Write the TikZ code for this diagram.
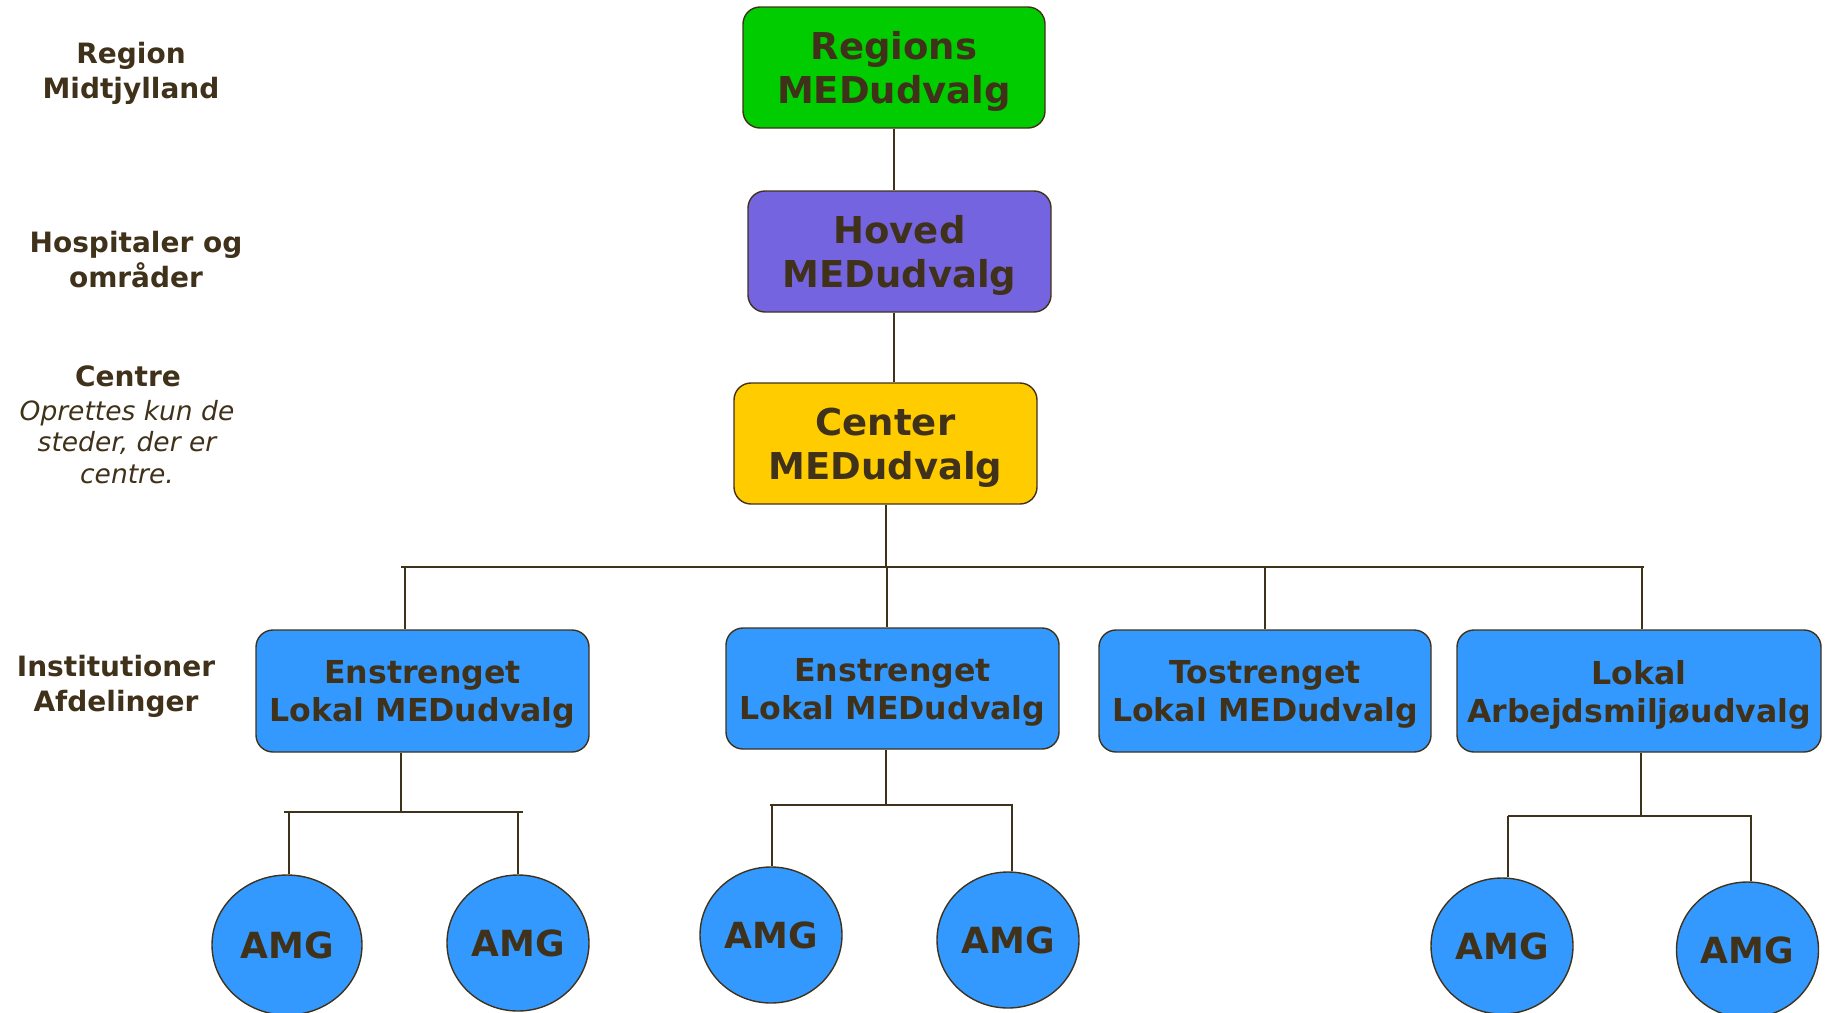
\documentclass[tikz,border=0pt]{standalone}
\usepackage{fontspec}
\setmainfont{DejaVu Sans}
\usetikzlibrary{shapes.geometric}
\definecolor{txt}{RGB}{64,50,26}
\definecolor{grn}{RGB}{0,204,0}
\definecolor{purp}{RGB}{117,100,224}
\definecolor{yel}{RGB}{255,204,0}
\definecolor{blu}{RGB}{51,153,255}
\begin{document}
\begin{tikzpicture}[x=1pt,y=-1pt,
  conn/.style={draw=txt,line width=1.6pt},
  bigbox/.style={rectangle,draw=txt,line width=1.4pt,rounded corners=17pt,minimum width=302pt,minimum height=121pt,inner sep=0pt,align=center,text=txt,font=\fontsize{37}{44}\selectfont\bfseries,text depth=0pt},
  unitbox/.style={bigbox,fill=blu,minimum width=333pt,minimum height=122pt,font=\fontsize{31.6}{38}\selectfont\bfseries},
  amg/.style={ellipse,draw=txt,line width=1.4pt,fill=blu,minimum width=142pt,minimum height=136pt,inner sep=0pt,text=txt,font=\fontsize{36}{42}\selectfont\bfseries},
  lbl/.style={align=center,text=txt,font=\fontsize{28}{35}\selectfont\bfseries,inner sep=0pt},
  note/.style={align=center,text=txt,font=\fontsize{26.5}{31.5}\selectfont\itshape,inner sep=0pt}]
\useasboundingbox (0,0) rectangle (1827,1012);

% level labels
\node[lbl] (lregion) at (131,73.5) {Region\\Midtjylland};
\node[lbl] (lhosp) at (136,259.5) {Hospitaler og\\områder};
\node[lbl,anchor=base] (lcentre) at (128,386) {Centre};
\node[note] (lnote) at (127,442) {Oprettes kun de\\steder, der er\\centre.};
\node[lbl] (linst) at (116,686) {Institutioner\\Afdelinger};

% main boxes
\node[bigbox,fill=grn] (green) at (894,67.5) {Regions\\MEDudvalg};
\node[bigbox,fill=purp,minimum width=303pt] (hoved) at (899.5,251.5) {Hoved\\MEDudvalg};
\node[bigbox,fill=yel,minimum width=303pt] (center) at (885.5,443.5) {Center\\MEDudvalg};

\node[unitbox] (box1) at (422.5,691) {Enstrenget\\Lokal MEDudvalg};
\node[unitbox,minimum height=121pt] (box2) at (892.5,688.5) {Enstrenget\\Lokal MEDudvalg};
\node[unitbox,minimum width=332pt] (box3) at (1265,691) {Tostrenget\\Lokal MEDudvalg};
\node[unitbox,minimum width=364pt] (box4) at (1639,691) {Lokal\\Arbejdsmiljøudvalg};

% AMG circles
\node[amg,minimum width=150pt,minimum height=140pt] (a1) at (287,945) {AMG};
\node[amg] (a2) at (518,943) {AMG};
\node[amg] (a3) at (771,935) {AMG};
\node[amg] (a4) at (1008,940) {AMG};
\node[amg] (a5) at (1502,946) {AMG};
\node[amg] (a6) at (1747.5,950) {AMG};

% upper connectors
\coordinate (vtop) at (894,0);
\draw[conn] (vtop |- green.south) -- (vtop |- hoved.north);
\draw[conn] (vtop |- hoved.south) -- (vtop |- center.north);

% main bus
\coordinate (busL) at (401,567);
\coordinate (busR) at (1644,567);
\coordinate (busC) at (886,567);
\draw[conn] (center.south -| busC) -- (busC);
\draw[conn] (busL) -- (busR);
\coordinate (d1) at (405,567);
\coordinate (d2) at (887,567);
\coordinate (d3) at (1265,567);
\coordinate (d4) at (1642,567);
\draw[conn] (d1) -- (d1 |- box1.north);
\draw[conn] (d2) -- (d2 |- box2.north);
\draw[conn] (d3) -- (d3 |- box3.north);
\draw[conn] (d4) -- (d4 |- box4.north);

% sub bus 1
\coordinate (s1) at (401,812);
\coordinate (s1L) at (284,812);
\coordinate (s1R) at (523,812);
\coordinate (t1a) at (289,812);
\coordinate (t1b) at (518,812);
\draw[conn] (s1 |- box1.south) -- (s1);
\draw[conn] (s1L) -- (s1R);
\draw[conn] (t1a) -- (t1a |- a1.north);
\draw[conn] (t1b) -- (t1b |- a2.north);

% sub bus 2
\coordinate (s2) at (886,805);
\coordinate (s2L) at (770,805);
\coordinate (s2R) at (1013,805);
\coordinate (t2a) at (772,805);
\coordinate (t2b) at (1012,805);
\draw[conn] (s2 |- box2.south) -- (s2);
\draw[conn] (s2L) -- (s2R);
\draw[conn] (t2a) -- (t2a |- a3.north);
\draw[conn] (t2b) -- (t2b |- a4.north);

% sub bus 4
\coordinate (s4) at (1641,816);
\coordinate (s4L) at (1508,816);
\coordinate (s4R) at (1752,816);
\coordinate (t4a) at (1508,816);
\coordinate (t4b) at (1751,816);
\draw[conn] (s4 |- box4.south) -- (s4);
\draw[conn] (s4L) -- (s4R);
\draw[conn] (t4a) -- (t4a |- a5.north);
\draw[conn] (t4b) -- (t4b |- a6.north);
\end{tikzpicture}
\end{document}
